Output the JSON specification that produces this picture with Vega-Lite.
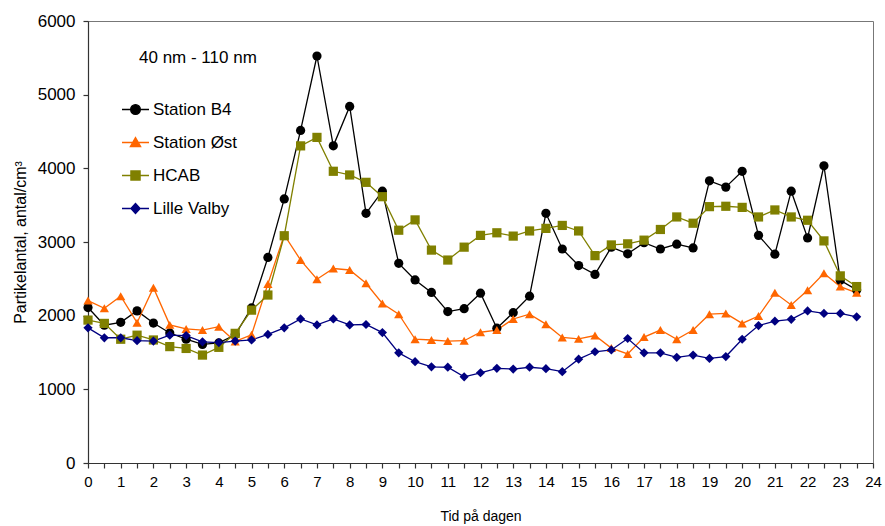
{
  "$schema": "https://vega.github.io/schema/vega-lite/v6.json",
  "width": 785,
  "height": 442,
  "autosize": {"type": "none"},
  "padding": {"left": 88, "top": 21, "right": 12, "bottom": 63},
  "background": "white",
  "config": {
    "font": "Liberation Sans",
    "view": {"stroke": "#777777", "strokeWidth": 1},
    "axis": {"grid": false, "domainColor": "#333333", "tickColor": "#333333", "labelColor": "#000000", "titleColor": "#000000", "labelFont": "Liberation Sans", "titleFont": "Liberation Sans", "titleFontWeight": "normal", "tickSize": 5, "domainWidth": 1.2, "tickWidth": 1.2}
  },
  "title": {"text": "40 nm - 110 nm", "anchor": "start", "frame": "group", "orient": "top", "offset": 0, "dx": 51, "dy": 68, "baseline": "alphabetic", "fontSize": 17, "fontWeight": "normal", "font": "Liberation Sans", "color": "#000000"},
  "data": {"values": [
    {"t":0,"s":"Station B4","v":2110},{"t":0.5,"s":"Station B4","v":1870},{"t":1,"s":"Station B4","v":1910},{"t":1.5,"s":"Station B4","v":2065},{"t":2,"s":"Station B4","v":1900},{"t":2.5,"s":"Station B4","v":1765},{"t":3,"s":"Station B4","v":1680},{"t":3.5,"s":"Station B4","v":1610},{"t":4,"s":"Station B4","v":1630},{"t":4.5,"s":"Station B4","v":1740},{"t":5,"s":"Station B4","v":2105},{"t":5.5,"s":"Station B4","v":2790},{"t":6,"s":"Station B4","v":3585},{"t":6.5,"s":"Station B4","v":4515},{"t":7,"s":"Station B4","v":5525},{"t":7.5,"s":"Station B4","v":4305},{"t":8,"s":"Station B4","v":4840},{"t":8.5,"s":"Station B4","v":3390},{"t":9,"s":"Station B4","v":3690},{"t":9.5,"s":"Station B4","v":2710},{"t":10,"s":"Station B4","v":2485},{"t":10.5,"s":"Station B4","v":2315},{"t":11,"s":"Station B4","v":2055},{"t":11.5,"s":"Station B4","v":2095},{"t":12,"s":"Station B4","v":2305},{"t":12.5,"s":"Station B4","v":1830},{"t":13,"s":"Station B4","v":2040},{"t":13.5,"s":"Station B4","v":2265},{"t":14,"s":"Station B4","v":3390},{"t":14.5,"s":"Station B4","v":2905},{"t":15,"s":"Station B4","v":2680},{"t":15.5,"s":"Station B4","v":2560},{"t":16,"s":"Station B4","v":2930},{"t":16.5,"s":"Station B4","v":2840},{"t":17,"s":"Station B4","v":2990},{"t":17.5,"s":"Station B4","v":2905},{"t":18,"s":"Station B4","v":2970},{"t":18.5,"s":"Station B4","v":2920},{"t":19,"s":"Station B4","v":3830},{"t":19.5,"s":"Station B4","v":3745},{"t":20,"s":"Station B4","v":3960},{"t":20.5,"s":"Station B4","v":3090},{"t":21,"s":"Station B4","v":2835},{"t":21.5,"s":"Station B4","v":3690},{"t":22,"s":"Station B4","v":3055},{"t":22.5,"s":"Station B4","v":4035},{"t":23,"s":"Station B4","v":2480},{"t":23.5,"s":"Station B4","v":2350},
    {"t":0,"s":"Station Øst","v":2205},{"t":0.5,"s":"Station Øst","v":2100},{"t":1,"s":"Station Øst","v":2265},{"t":1.5,"s":"Station Øst","v":1905},{"t":2,"s":"Station Øst","v":2380},{"t":2.5,"s":"Station Øst","v":1875},{"t":3,"s":"Station Øst","v":1820},{"t":3.5,"s":"Station Øst","v":1805},{"t":4,"s":"Station Øst","v":1850},{"t":4.5,"s":"Station Øst","v":1650},{"t":5,"s":"Station Øst","v":1740},{"t":5.5,"s":"Station Øst","v":2430},{"t":6,"s":"Station Øst","v":3095},{"t":6.5,"s":"Station Øst","v":2755},{"t":7,"s":"Station Øst","v":2495},{"t":7.5,"s":"Station Øst","v":2640},{"t":8,"s":"Station Øst","v":2620},{"t":8.5,"s":"Station Øst","v":2440},{"t":9,"s":"Station Øst","v":2165},{"t":9.5,"s":"Station Øst","v":2020},{"t":10,"s":"Station Øst","v":1680},{"t":10.5,"s":"Station Øst","v":1670},{"t":11,"s":"Station Øst","v":1655},{"t":11.5,"s":"Station Øst","v":1660},{"t":12,"s":"Station Øst","v":1775},{"t":12.5,"s":"Station Øst","v":1805},{"t":13,"s":"Station Øst","v":1955},{"t":13.5,"s":"Station Øst","v":2020},{"t":14,"s":"Station Øst","v":1885},{"t":14.5,"s":"Station Øst","v":1705},{"t":15,"s":"Station Øst","v":1685},{"t":15.5,"s":"Station Øst","v":1730},{"t":16,"s":"Station Øst","v":1560},{"t":16.5,"s":"Station Øst","v":1480},{"t":17,"s":"Station Øst","v":1710},{"t":17.5,"s":"Station Øst","v":1805},{"t":18,"s":"Station Øst","v":1680},{"t":18.5,"s":"Station Øst","v":1805},{"t":19,"s":"Station Øst","v":2020},{"t":19.5,"s":"Station Øst","v":2030},{"t":20,"s":"Station Øst","v":1895},{"t":20.5,"s":"Station Øst","v":1995},{"t":21,"s":"Station Øst","v":2310},{"t":21.5,"s":"Station Øst","v":2145},{"t":22,"s":"Station Øst","v":2345},{"t":22.5,"s":"Station Øst","v":2575},{"t":23,"s":"Station Øst","v":2395},{"t":23.5,"s":"Station Øst","v":2310},
    {"t":0,"s":"HCAB","v":1940},{"t":0.5,"s":"HCAB","v":1895},{"t":1,"s":"HCAB","v":1680},{"t":1.5,"s":"HCAB","v":1735},{"t":2,"s":"HCAB","v":1670},{"t":2.5,"s":"HCAB","v":1580},{"t":3,"s":"HCAB","v":1555},{"t":3.5,"s":"HCAB","v":1465},{"t":4,"s":"HCAB","v":1570},{"t":4.5,"s":"HCAB","v":1760},{"t":5,"s":"HCAB","v":2075},{"t":5.5,"s":"HCAB","v":2280},{"t":6,"s":"HCAB","v":3085},{"t":6.5,"s":"HCAB","v":4305},{"t":7,"s":"HCAB","v":4420},{"t":7.5,"s":"HCAB","v":3960},{"t":8,"s":"HCAB","v":3910},{"t":8.5,"s":"HCAB","v":3810},{"t":9,"s":"HCAB","v":3615},{"t":9.5,"s":"HCAB","v":3160},{"t":10,"s":"HCAB","v":3300},{"t":10.5,"s":"HCAB","v":2890},{"t":11,"s":"HCAB","v":2755},{"t":11.5,"s":"HCAB","v":2930},{"t":12,"s":"HCAB","v":3090},{"t":12.5,"s":"HCAB","v":3125},{"t":13,"s":"HCAB","v":3080},{"t":13.5,"s":"HCAB","v":3150},{"t":14,"s":"HCAB","v":3185},{"t":14.5,"s":"HCAB","v":3225},{"t":15,"s":"HCAB","v":3150},{"t":15.5,"s":"HCAB","v":2815},{"t":16,"s":"HCAB","v":2960},{"t":16.5,"s":"HCAB","v":2975},{"t":17,"s":"HCAB","v":3025},{"t":17.5,"s":"HCAB","v":3170},{"t":18,"s":"HCAB","v":3340},{"t":18.5,"s":"HCAB","v":3255},{"t":19,"s":"HCAB","v":3480},{"t":19.5,"s":"HCAB","v":3485},{"t":20,"s":"HCAB","v":3470},{"t":20.5,"s":"HCAB","v":3340},{"t":21,"s":"HCAB","v":3435},{"t":21.5,"s":"HCAB","v":3340},{"t":22,"s":"HCAB","v":3295},{"t":22.5,"s":"HCAB","v":3015},{"t":23,"s":"HCAB","v":2540},{"t":23.5,"s":"HCAB","v":2395},
    {"t":0,"s":"Lille Valby","v":1835},{"t":0.5,"s":"Lille Valby","v":1700},{"t":1,"s":"Lille Valby","v":1700},{"t":1.5,"s":"Lille Valby","v":1660},{"t":2,"s":"Lille Valby","v":1655},{"t":2.5,"s":"Lille Valby","v":1735},{"t":3,"s":"Lille Valby","v":1730},{"t":3.5,"s":"Lille Valby","v":1645},{"t":4,"s":"Lille Valby","v":1635},{"t":4.5,"s":"Lille Valby","v":1655},{"t":5,"s":"Lille Valby","v":1670},{"t":5.5,"s":"Lille Valby","v":1745},{"t":6,"s":"Lille Valby","v":1835},{"t":6.5,"s":"Lille Valby","v":1955},{"t":7,"s":"Lille Valby","v":1875},{"t":7.5,"s":"Lille Valby","v":1955},{"t":8,"s":"Lille Valby","v":1875},{"t":8.5,"s":"Lille Valby","v":1880},{"t":9,"s":"Lille Valby","v":1770},{"t":9.5,"s":"Lille Valby","v":1495},{"t":10,"s":"Lille Valby","v":1375},{"t":10.5,"s":"Lille Valby","v":1305},{"t":11,"s":"Lille Valby","v":1300},{"t":11.5,"s":"Lille Valby","v":1170},{"t":12,"s":"Lille Valby","v":1225},{"t":12.5,"s":"Lille Valby","v":1285},{"t":13,"s":"Lille Valby","v":1275},{"t":13.5,"s":"Lille Valby","v":1300},{"t":14,"s":"Lille Valby","v":1280},{"t":14.5,"s":"Lille Valby","v":1240},{"t":15,"s":"Lille Valby","v":1410},{"t":15.5,"s":"Lille Valby","v":1510},{"t":16,"s":"Lille Valby","v":1535},{"t":16.5,"s":"Lille Valby","v":1690},{"t":17,"s":"Lille Valby","v":1495},{"t":17.5,"s":"Lille Valby","v":1495},{"t":18,"s":"Lille Valby","v":1435},{"t":18.5,"s":"Lille Valby","v":1465},{"t":19,"s":"Lille Valby","v":1420},{"t":19.5,"s":"Lille Valby","v":1445},{"t":20,"s":"Lille Valby","v":1680},{"t":20.5,"s":"Lille Valby","v":1865},{"t":21,"s":"Lille Valby","v":1925},{"t":21.5,"s":"Lille Valby","v":1950},{"t":22,"s":"Lille Valby","v":2065},{"t":22.5,"s":"Lille Valby","v":2030},{"t":23,"s":"Lille Valby","v":2030},{"t":23.5,"s":"Lille Valby","v":1985}
  ]},
  "encoding": {
    "x": {"field": "t", "type": "quantitative", "scale": {"domain": [0, 24], "nice": false, "zero": false},
      "axis": {"values": [0,0.5,1,1.5,2,2.5,3,3.5,4,4.5,5,5.5,6,6.5,7,7.5,8,8.5,9,9.5,10,10.5,11,11.5,12,12.5,13,13.5,14,14.5,15,15.5,16,16.5,17,17.5,18,18.5,19,19.5,20,20.5,21,21.5,22,22.5,23,23.5,24],
        "labelExpr": "datum.value % 1 === 0 ? format(datum.value, 'd') : ''", "labelFontSize": 15, "labelPadding": 6, "labelFlush": false, "labelOverlap": false,
        "title": "Tid på dagen", "titleFontSize": 14, "titlePadding": 20}},
    "y": {"field": "v", "type": "quantitative", "scale": {"domain": [0, 6000], "nice": false},
      "axis": {"values": [0,1000,2000,3000,4000,5000,6000], "format": "d", "labelFontSize": 17, "labelPadding": 8,
        "title": "Partikelantal, antal/cm³", "titleFontSize": 16, "titlePadding": 9}}
  },
  "resolve": {"legend": {"color": "independent", "shape": "independent"}},
  "layer": [
    {"mark": {"type": "line", "strokeWidth": 1.3},
      "encoding": {"color": {"field": "s", "type": "nominal",
        "scale": {"domain": ["Station B4", "Station Øst", "HCAB", "Lille Valby"], "range": ["#000000", "#FF6600", "#808000", "#000080"]},
        "legend": null}}},
    {"mark": {"type": "point", "filled": true, "size": 85, "opacity": 1},
      "encoding": {
        "color": {"field": "s", "type": "nominal", "legend": null},
        "shape": {"field": "s", "type": "nominal",
          "scale": {"domain": ["Station B4", "Station Øst", "HCAB", "Lille Valby"], "range": ["circle", "triangle-up", "square", "diamond"]},
          "legend": null}}},
    {"mark": {"type": "point", "filled": true, "size": 10, "opacity": 0},
      "encoding": {
        "color": {"field": "s", "type": "nominal",
          "legend": {"orient": "none", "legendX": 33, "legendY": 74, "title": null, "padding": 0,
            "symbolSize": 729, "symbolStrokeWidth": 1.3, "symbolOpacity": 1,
            "symbolStrokeColor": {"expr": "scale('color', datum.value)"},
            "symbolType": {"expr": "datum.value === 'Station B4' ? 'M-1,0L1,0M0.36,0C0.36,0.2,0.2,0.36,0,0.36C-0.2,0.36,-0.36,0.2,-0.36,0C-0.36,-0.2,-0.2,-0.36,0,-0.36C0.2,-0.36,0.36,-0.2,0.36,0Z' : datum.value === 'Station Øst' ? 'M-1,0L1,0M0,-0.36L0.38,0.3L-0.38,0.3Z' : datum.value === 'HCAB' ? 'M-1,0L1,0M-0.34,-0.34L0.34,-0.34L0.34,0.34L-0.34,0.34Z' : 'M-1,0L1,0M0,-0.37L0.34,0L0,0.37L-0.34,0Z'"},
            "labelFontSize": 17, "labelFont": "Liberation Sans", "labelColor": "#000000", "labelOffset": 3, "rowPadding": 10}}}}
  ]
}
